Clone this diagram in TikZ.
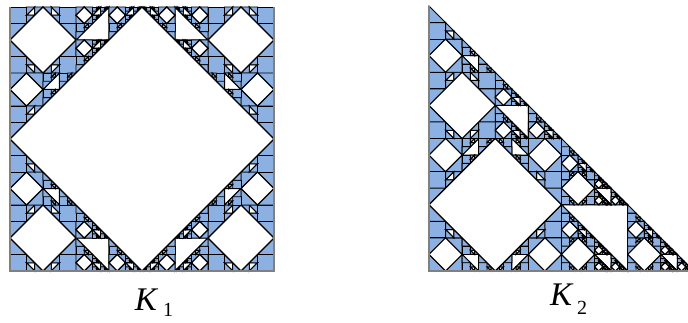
\documentclass[tikz,border=0pt]{standalone}
\usepackage{fontspec}
\setmainfont{Liberation Serif}
\definecolor{cellblue}{HTML}{8DB0E2}
\tikzset{
  cell/.style={fill=cellblue, draw=black, line width=0.9pt, line join=miter},
  hole/.style={fill=white, draw=black, line width=1.1pt},
  rim/.style={draw=gray, line width=1.2pt},
  mark label/.style={font=\fontsize{33}{33}\selectfont\itshape, anchor=base, inner sep=0pt},
  mark index/.style={font=\fontsize{20}{20}\selectfont, anchor=base, inner sep=0pt}
}
% square: diamond with four mirrored corners, blue when the count is spent
\newcommand{\cellS}[1]{%
  \ifnum#1>0\relax
    \foreach \ox/\oy/\sx/\sy in {0/0/1/1, 1/0/-1/1, 0/1/1/-1, 1/1/-1/-1}{
      \begin{scope}[shift={(\ox,\oy)},xscale=.5*\sx,yscale=.5*\sy]
        \cellT{\the\numexpr#1-1\relax}
      \end{scope}
    }
    \draw[hole] (.5,0) -- (1,.5) -- (.5,1) -- (0,.5) -- cycle;
  \else
    \path[cell] (0,0) rectangle (1,1);
  \fi}
% triangle: square in the corner, triangle above, gasket part to the right
\newcommand{\cellT}[1]{%
  \ifnum#1>0\relax
    \begin{scope}[scale=.5]\cellS{\the\numexpr#1-1\relax}\end{scope}
    \begin{scope}[shift={(0,.5)},scale=.5]\cellT{\the\numexpr#1-1\relax}\end{scope}
    \begin{scope}[shift={(.5,0)},scale=.5]\cellR{#1}\end{scope}
  \else
    \path[cell] (0,0) -- (1,0) -- (0,1) -- cycle;
  \fi}
% gasket part: three small triangles around a white middle
\newcommand{\cellR}[1]{%
  \draw[hole] (.5,0) -- (.5,.5) -- (0,.5) -- cycle;
  \begin{scope}[scale=.5]\cellT{\the\numexpr#1-1\relax}\end{scope}
  \begin{scope}[shift={(.5,0)},scale=.5]\cellT{\the\numexpr#1-1\relax}\end{scope}
  \begin{scope}[shift={(0,.5)},scale=.5]\cellT{\the\numexpr#1-1\relax}\end{scope}}
\begin{document}
\begin{tikzpicture}[x=1pt,y=1pt]
  \clip (0,0) rectangle (688,322);
  \useasboundingbox (0,0) rectangle (688,322);

  % K1
  \begin{scope}[shift={(10,51)},x=264pt,y=264pt]
    \cellS{4}
    \draw[rim] (1,1) -- (1,0) -- (0,0) -- (0,1);
  \end{scope}

  % K2
  \begin{scope}[shift={(429,51)},x=265pt,y=265pt]
    \cellT{4}
    \draw[rim] (0,1) -- (0,0) -- (1,0);
  \end{scope}

  \node[mark label] (markA) at (146,12) {K};
  \node[mark index] (indexA) at (168,6) {1};
  \node[mark label] (markB) at (561,17) {K};
  \node[mark index] (indexB) at (582,8) {2};
\end{tikzpicture}
\end{document}
